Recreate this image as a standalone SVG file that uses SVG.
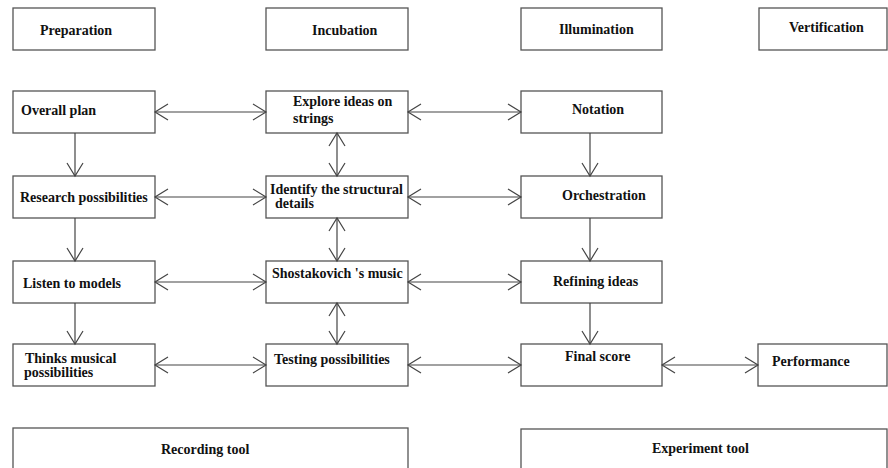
<svg xmlns="http://www.w3.org/2000/svg" width="888" height="468" viewBox="0 0 888 468">
<style>
  .box { fill: #ffffff; stroke: #555555; stroke-width: 1.3; }
  .t { font-family: "Liberation Serif", "Times New Roman", serif; font-weight: bold; font-size: 14px; fill: #111111; }
  .c { fill: none; stroke: #444444; stroke-width: 1.2; }
</style>
<defs>
  <marker id="ah" markerUnits="userSpaceOnUse" markerWidth="30" markerHeight="20" viewBox="-15 -10 30 20" refX="0" refY="0" orient="auto-start-reverse" overflow="visible">
    <path d="M-13,-8 L0,0 L-13,8" fill="none" stroke="#444444" stroke-width="1.2"/>
  </marker>
</defs>
<rect width="888" height="468" fill="#ffffff"/>

<g id="preparation"><rect class="box" x="13" y="8" width="142" height="42"/><text class="t" x="40" y="35">Preparation</text></g>
<g id="incubation"><rect class="box" x="266" y="8" width="142" height="42"/><text class="t" x="312" y="35">Incubation</text></g>
<g id="illumination"><rect class="box" x="521" y="8" width="141" height="42"/><text class="t" x="559" y="34">Illumination</text></g>
<g id="vertification"><rect class="box" x="759" y="8" width="128" height="42"/><text class="t" x="789" y="32">Vertification</text></g>

<g id="overall-plan"><rect class="box" x="13" y="91" width="142" height="42"/><text class="t" x="21" y="115">Overall plan</text></g>
<g id="explore-ideas"><rect class="box" x="266" y="91" width="142" height="42"/><text class="t" x="293" y="106">Explore ideas on</text><text class="t" x="293" y="123">strings</text></g>
<g id="notation"><rect class="box" x="521" y="91" width="141" height="42"/><text class="t" x="572" y="114">Notation</text></g>

<g id="research"><rect class="box" x="13" y="176" width="142" height="42"/><text class="t" x="20" y="202">Research possibilities</text></g>
<g id="identify"><rect class="box" x="266" y="176" width="142" height="42"/><text class="t" x="270" y="194">Identify the structural</text><text class="t" x="275" y="208">details</text></g>
<g id="orchestration"><rect class="box" x="521" y="176" width="141" height="42"/><text class="t" x="562" y="200">Orchestration</text></g>

<g id="listen"><rect class="box" x="13" y="261" width="142" height="42"/><text class="t" x="23" y="288">Listen to models</text></g>
<g id="shostakovich"><rect class="box" x="266" y="261" width="142" height="42"/><text class="t" x="272" y="278">Shostakovich 's music</text></g>
<g id="refining"><rect class="box" x="521" y="261" width="141" height="42"/><text class="t" x="553" y="286">Refining ideas</text></g>

<g id="thinks"><rect class="box" x="13" y="344" width="142" height="42"/><text class="t" x="25" y="363">Thinks musical</text><text class="t" x="24" y="377">possibilities</text></g>
<g id="testing"><rect class="box" x="266" y="344" width="142" height="42"/><text class="t" x="274" y="364">Testing possibilities</text></g>
<g id="final-score"><rect class="box" x="521" y="344" width="141" height="42"/><text class="t" x="565" y="361">Final score</text></g>
<g id="performance"><rect class="box" x="758" y="344" width="129" height="42"/><text class="t" x="772" y="366">Performance</text></g>

<g id="recording-tool"><rect class="box" x="13" y="428" width="395" height="60"/><text class="t" x="161" y="454">Recording tool</text></g>
<g id="experiment-tool"><rect class="box" x="521" y="429" width="366" height="60"/><text class="t" x="652" y="453">Experiment tool</text></g>

<g id="connectors">
  <line class="c" x1="155" y1="112" x2="266" y2="112" marker-start="url(#ah)" marker-end="url(#ah)"/>
  <line class="c" x1="408" y1="112" x2="521" y2="112" marker-start="url(#ah)" marker-end="url(#ah)"/>
  <line class="c" x1="155" y1="197" x2="266" y2="197" marker-start="url(#ah)" marker-end="url(#ah)"/>
  <line class="c" x1="408" y1="197" x2="521" y2="197" marker-start="url(#ah)" marker-end="url(#ah)"/>
  <line class="c" x1="155" y1="282" x2="266" y2="282" marker-start="url(#ah)" marker-end="url(#ah)"/>
  <line class="c" x1="408" y1="282" x2="521" y2="282" marker-start="url(#ah)" marker-end="url(#ah)"/>
  <line class="c" x1="155" y1="365" x2="266" y2="365" marker-start="url(#ah)" marker-end="url(#ah)"/>
  <line class="c" x1="408" y1="365" x2="521" y2="365" marker-start="url(#ah)" marker-end="url(#ah)"/>
  <line class="c" x1="662" y1="365" x2="758" y2="365" marker-start="url(#ah)" marker-end="url(#ah)"/>

  <line class="c" x1="75" y1="133" x2="75" y2="176" marker-end="url(#ah)"/>
  <line class="c" x1="75" y1="218" x2="75" y2="261" marker-end="url(#ah)"/>
  <line class="c" x1="75" y1="303" x2="75" y2="344" marker-end="url(#ah)"/>

  <line class="c" x1="337" y1="133" x2="337" y2="176" marker-start="url(#ah)" marker-end="url(#ah)"/>
  <line class="c" x1="337" y1="218" x2="337" y2="261" marker-start="url(#ah)" marker-end="url(#ah)"/>
  <line class="c" x1="337" y1="303" x2="337" y2="344" marker-start="url(#ah)" marker-end="url(#ah)"/>

  <line class="c" x1="590" y1="133" x2="590" y2="176" marker-end="url(#ah)"/>
  <line class="c" x1="590" y1="218" x2="590" y2="261" marker-end="url(#ah)"/>
  <line class="c" x1="590" y1="303" x2="590" y2="344" marker-end="url(#ah)"/>
</g>
</svg>
